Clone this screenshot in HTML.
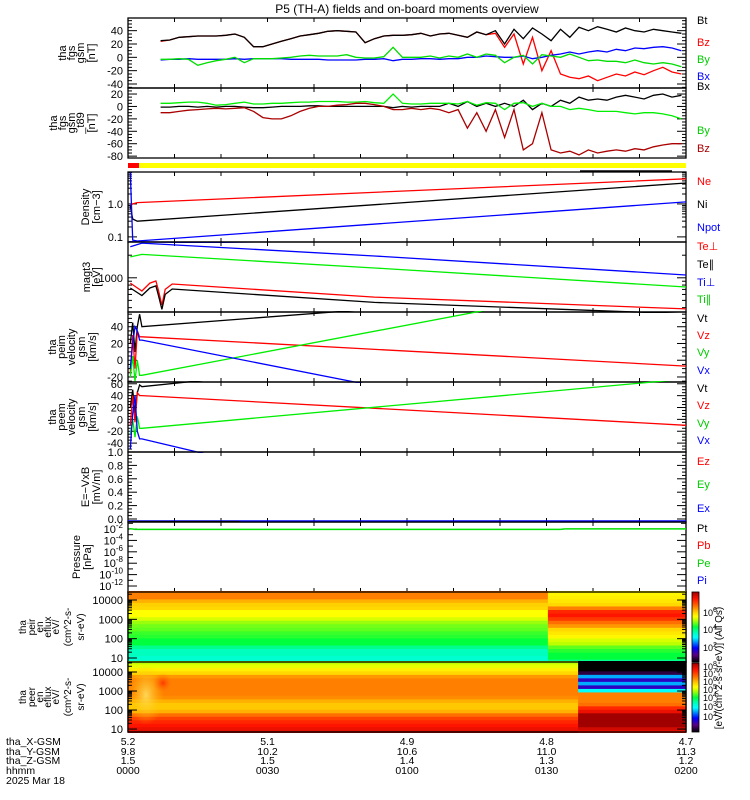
<!DOCTYPE html>
<html><head><meta charset="utf-8"><style>
html,body{margin:0;padding:0;background:#fff;width:750px;height:800px;overflow:hidden}
svg{display:block;font-family:"Liberation Sans",sans-serif}
</style></head><body>
<svg id="chart" width="750" height="800" viewBox="0 0 750 800" xmlns="http://www.w3.org/2000/svg">
<text x="407" y="13" font-size="12" text-anchor="middle">P5 (TH-A) fields and on-board moments overview</text>
</svg>
<script>
// ---------- data ----------
const tFgs=[7,9,11,13,15,17,19,21,23,25,27,29,31,33,35,37,39,41,43,45,47,49,51,53,55,57,59,61,63,65,67,69,71,73,75,77,79,81,83,85,87,89,91,93,95,97,99,101,103,105,107,109,111,113,115,117,119];
const btVals=[25,26,30,31,32,32,32,33,35,30,16,16,20,24,28,32,34,36,39,40,39,38,22,28,32,33,33,34,36,32,35,36,33,30,38,34,40,20,42,28,44,35,25,42,30,45,40,46,42,38,44,40,38,42,40,38,36];
const bzVals=[24,26,30,31,32,32,32,33,35,30,16,16,20,24,28,32,34,36,39,40,39,38,22,28,32,33,33,34,36,32,35,36,33,30,38,34,36,15,35,-10,30,-20,10,-25,-30,-32,-28,-35,-30,-25,-28,-22,-26,-20,-15,-22,-25];
const byVals=[-3,-3,-2,-3,-12,-8,-5,-3,0,-8,-2,-2,-2,-1,0,2,3,2,2,2,4,0,-1,-1,1,15,0,0,0,2,-1,2,0,5,0,5,3,-8,0,3,-10,4,2,0,5,0,-5,-4,-6,-6,-8,-4,-8,-10,-8,-10,-14];
const bxVals=[-4,-3,-3,-2,-3,-3,-3,-3,-2,-3,-2,-2,-2,-2,-3,-3,-3,-3,-4,-4,-4,-4,-3,-3,-2,-5,-3,-3,-2,-2,-3,-2,-2,0,0,2,1,0,0,2,-2,0,3,5,8,5,8,10,8,12,10,14,13,15,16,14,10];
const bx89Vals=[-1,-1,0,0,-1,0,-1,0,0,-1,-2,-2,-1,0,0,0,1,1,0,0,0,0,0,0,0,-2,0,-1,0,0,0,5,0,8,0,5,0,5,0,10,-5,5,0,10,5,15,10,12,10,15,18,15,12,18,20,15,18];
const by89Vals=[5,5,6,7,7,5,2,3,5,7,4,4,5,5,6,7,7,8,8,8,7,7,8,6,5,20,5,4,4,5,5,5,4,8,2,6,5,-5,5,6,0,5,0,0,-5,-3,-5,-8,-8,-8,-10,-12,-10,-10,-12,-15,-20];
const bz89Vals=[-10,-10,-8,-6,-5,-4,-3,-4,-3,-2,-8,-18,-20,-20,-15,-8,-3,0,0,2,3,5,5,3,0,-5,-5,-3,-5,-3,-5,-10,-5,-35,-10,-40,-5,-50,-5,-70,-60,-10,-70,-75,-72,-78,-70,-75,-72,-70,-72,-68,-70,-65,-62,-60,-60];
const tDen=[0.5,1,2,120];
const neVals=[0.9,1.0,1.1,5.8];
const niVals=[0.9,0.35,0.3,4.3];
const npotVals=[9,0.08,0.075,1.15];
const tTemp=[0.5,3,4.7,6,6.5,7.3,8,9.5,53,120];
const teperpVals=[849,667,849,905,700,434,700,827,553,385];
const teparVals=[730,580,730,780,600,380,600,710,470,330];
const tTi=[0.5,3,53,120];
const tiperpVals=[2600,2900,1950,1090];
const tiparVals=[1900,2050,1350,753];
const tVel=[0.5,1,1.5,2,2.5,3,120];
const peimVt=[20,45,10,40,55,40,90];
const peimVz=[-15,30,-10,35,28,28,-7];
const peimVy=[-20,5,-25,0,-18,-18,105];
const peimVx=[-10,20,40,35,24,24,-104];
const peemVt=[20,50,10,45,58,55,150];
const peemVz=[-10,40,-5,45,40,40,-10];
const peemVy=[-25,0,-30,5,-15,-15,68];
const peemVx=[-50,10,40,-20,-33,-33,-250];
const tE=[0,120];
const exVals=[-0.03,-0.03];
const tEblack=[0.3,24];
const etVals=[-0.04,-0.04];
const tPres=[0.3,1.5,93,94,120];
const peVals=[0.012,0.0085,0.0085,0.0105,0.0105];
const energies=[7,11,16,25,38,58,88,135,205,310,480,730,1100,1700,2600,4000,6100,9300,14200,21700,33100];
const peirSegTimes=[0,90.3,120];
const peirFluxA=[0.4,0.4,0.42,0.42,0.45,0.5,0.5,0.52,0.53,0.55,0.56,0.58,0.62,0.65,0.65,0.7,0.71,0.74,0.78,0.78,0.8];
const peirFluxB=[0.45,0.5,0.5,0.52,0.55,0.6,0.62,0.66,0.68,0.7,0.76,0.8,0.86,0.9,0.88,0.78,0.7,0.68,0.67,0.66,0.66];
const peerSegTimes=[0,96.8,120];
const peerFluxA=[0.95,0.92,0.9,0.88,0.85,0.8,0.74,0.72,0.72,0.74,0.77,0.78,0.78,0.78,0.78,0.78,0.76,0.7,0.67,0.63,0.6];
const peerFluxB=[0.9,0.95,1,1,1,1,0.92,0.88,0.8,0.78,0.78,0.78,0.35,0.15,0.3,0.15,0.3,0.05,0,0,0];
const xTickLabelsX=["5.2","5.1","4.9","4.8","4.7"];
const xTickLabelsY=["9.8","10.2","10.6","11.0","11.3"];
const xTickLabelsZ=["1.5","1.5","1.4","1.3","1.2"];
const xTickLabelsT=["0000","0030","0100","0130","0200"];

// ---------- helpers ----------
const svg=document.getElementById('chart');
const NS='http://www.w3.org/2000/svg';
const X0=128,X1=686,TMAX=120;
const xs=t=>X0+t*(X1-X0)/TMAX;
function mk(tag,attrs,parent){const e=document.createElementNS(NS,tag);for(const k in attrs)e.setAttribute(k,attrs[k]);(parent||svg).appendChild(e);return e;}
function lin(vmin,vmax,y0,y1){return v=>y1-(v-vmin)/(vmax-vmin)*(y1-y0);}
function lg(vmin,vmax,y0,y1){const a=Math.log10(vmin),b=Math.log10(vmax);return v=>y1-(Math.log10(v)-a)/(b-a)*(y1-y0);}
function series(ts,vs,ys,color,name,y0,y1,w){
  const n=Math.min(ts.length,vs.length);let d='';
  for(let i=0;i<n;i++){d+=(i?'L':'M')+xs(ts[i]).toFixed(1)+','+ys(vs[i]).toFixed(1);}
  const p=mk('path',{d:d,fill:'none',stroke:color,'stroke-width':w||1.3,'clip-path':'url(#clip'+y0+')'});
  
  
}
function segs(ts,vs,ys,color,name,w){
  const g=mk('g',{});
  
  
  const n=Math.min(ts.length,vs.length);
  for(let i=1;i<n;i++){mk('line',{x1:xs(ts[i-1]),y1:ys(vs[i-1]),x2:xs(ts[i]),y2:ys(vs[i]),stroke:color,'stroke-width':w||1.5},g);}
}
const defs=mk('defs',{});
function panel(y0,y1,name){
  const cp=mk('clipPath',{id:'clip'+y0},defs);mk('rect',{x:X0,y:y0-1,width:X1-X0,height:y1-y0+2},cp);
  const r=mk('rect',{x:X0,y:y0,width:X1-X0,height:y1-y0,fill:'none',stroke:'#000','stroke-width':1.3});
  
  
  for(let t=10;t<TMAX;t+=10){
    mk('line',{x1:xs(t),x2:xs(t),y1:y0,y2:y0+4,stroke:'#000'});
    mk('line',{x1:xs(t),x2:xs(t),y1:y1,y2:y1-4,stroke:'#000'});
  }
}
function ytick(y,len){mk('line',{x1:X0,x2:X0+len,y1:y,y2:y,stroke:'#000'});mk('line',{x1:X1,x2:X1-len,y1:y,y2:y,stroke:'#000'});}
function ylab(y,txt,sup){
  const t=mk('text',{x:123,y:y+4,'font-size':11,'text-anchor':'end'});
  
  
  t.textContent=txt;
  if(sup){const s=mk('tspan',{dy:-5,'font-size':8},t);s.textContent=sup;}
}
function linAxis(ys,vmin,vmax,major,minor,fmt,y0,y1){
  for(let v=Math.ceil(vmin/minor)*minor;v<=vmax+1e-9;v+=minor){const y=ys(v);if(y<y0-0.5||y>y1+0.5)continue;
    const isM=Math.abs(Math.round(v/major)*major-v)<1e-6;ytick(y,isM?9:4);if(isM)ylab(y,fmt(v));}
}
function leftLabel(lines,xsArr,yc,fs){
  lines.forEach((l,i)=>{const t=mk('text',{transform:`translate(${xsArr[i]},${yc}) rotate(-90)`,'font-size':fs||11,'text-anchor':'middle'});
    
    
    t.textContent=l;});
}
function legend(txt,y,color){const t=mk('text',{x:697,y:y+4,'font-size':11,fill:color});
  
  
  t.textContent=txt;}
function cmap(v){
  const st=[[0,0,0,0],[0.1,90,0,130],[0.2,0,0,255],[0.35,0,255,255],[0.42,0,255,190],[0.5,0,255,60],[0.6,190,255,0],[0.65,255,255,0],[0.72,255,200,0],[0.78,255,128,0],[0.9,255,20,0],[1,160,0,0]];
  v=Math.max(0,Math.min(1,v));for(let i=1;i<st.length;i++){if(v<=st[i][0]){const a=st[i-1],b=st[i],f=(v-a[0])/(b[0]-a[0]);
    return `rgb(${Math.round(a[1]+f*(b[1]-a[1]))},${Math.round(a[2]+f*(b[2]-a[2]))},${Math.round(a[3]+f*(b[3]-a[3]))})`;}}return 'rgb(160,0,0)';
}
function spectro(segT,fluxes,ys,y0,y1,name){
  const g=mk('g',{'clip-path':'url(#clip'+y0+')'});
  
  
  for(let s=0;s<fluxes.length;s++){const f=fluxes[s];
    for(let i=0;i<energies.length;i++){
      const lo=i?Math.sqrt(energies[i]*energies[i-1]):energies[0]/1.5;
      const hi=i<energies.length-1?Math.sqrt(energies[i]*energies[i+1]):energies[i]*1.5;
      const ya=ys(hi),yb=ys(lo);
      const c=mk('rect',{x:xs(segT[s]),y:ya,width:xs(segT[s+1])-xs(segT[s])+0.5,height:yb-ya+0.5,fill:cmap(f[i])},g);
      
      
    }}
  return g;
}
function logAxisE(ys,y0,y1){
  [10,100,1000,10000].forEach(v=>{for(let k=1;k<10;k++){const y=ys(v*k);if(y<y0||y>y1)continue;ytick(y,k==1?9:4);}ylab(ys(v),String(v));});
}

// ---------- panel 1: fgs gsm ----------
let y1s=lin(-46,59,18,88);panel(18,88,'fgs-gsm-panel');
linAxis(y1s,-46,59,20,5,v=>v,18,88);
series(tFgs,bzVals,y1s,'#f00','bz-line',18);series(tFgs,btVals,y1s,'#000','bt-line',18);
series(tFgs,bxVals,y1s,'#00f','bx-line',18);series(tFgs,byVals,y1s,'#0d0','by-line',18);
leftLabel(['tha','fgs','gsm','[nT]'],[66,75,84,95],53);
legend('Bt',20,'#000');legend('Bz',42,'#f00');legend('By',59,'#0c0');legend('Bx',76,'#00f');

// ---------- panel 2: fgs gsm - t89 ----------
let y2s=lin(-83,29.7,88,158);panel(88,158,'fgs-t89-panel');
linAxis(y2s,-83,29.7,20,5,v=>v,88,158);
series(tFgs,bx89Vals,y2s,'#000','bx-t89-line',88);series(tFgs,by89Vals,y2s,'#0e0','by-t89-line',88);
series(tFgs,bz89Vals,y2s,'#a00','bz-t89-line',88);
leftLabel(['tha','fgs','gsm','_t89','[nT]'],[57,66,75,84,95],123);
legend('Bx',86,'#000');legend('By',130,'#0c0');legend('Bz',148,'#a00');

// flag bar
mk('rect',{x:X0,y:163,width:X1-X0,height:5,fill:'#ff0'});
mk('rect',{x:X0,y:163,width:11,height:5,fill:'#f00'});
mk('line',{x1:580,x2:672,y1:171,y2:171,stroke:'#000','stroke-width':1.5});

// ---------- panel 3: density ----------
let y3s=lg(0.07,9.3,172,242);panel(172,242,'density-panel');
[0.1,1].forEach(v=>{for(let k=1;k<10;k++){const y=y3s(v*k);if(y<172||y>242)continue;ytick(y,k==1?9:4);}});
ylab(y3s(1),'1.0');ylab(y3s(0.1),'0.1');
series(tDen,neVals,y3s,'#f00','ne-line',172);series(tDen,niVals,y3s,'#000','ni-line',172);
series(tDen,npotVals,y3s,'#00f','npot-line',172);
series([0.3,28],[0.072,0.062],y3s,'#00f','npot-secondary-line',172);
leftLabel(['Density','[cm\u22123]'],[89,100],207);
legend('Ne',181,'#f00');legend('Ni',204,'#000');legend('Npot',227,'#00f');

// ---------- panel 4: temperature ----------
let y4s=lg(350,3000,242,312);panel(242,312,'temperature-panel');
[100,1000].forEach(v=>{for(let k=1;k<10;k++){const y=y4s(v*k);if(y<242||y>312)continue;ytick(y,k==1?9:4);}});
ylab(y4s(1000),'1000');
series(tTemp,teperpVals,y4s,'#f00','te-perp-line',242);series(tTemp,teparVals,y4s,'#000','te-par-line',242);
series(tTi,tiperpVals,y4s,'#00f','ti-perp-line',242);series(tTi,tiparVals,y4s,'#0e0','ti-par-line',242);
leftLabel(['magt3','[eV]'],[90,100],277);
legend('Te\u22a5',246,'#f00');legend('Te\u2225',264,'#000');legend('Ti\u22a5',282,'#00f');legend('Ti\u2225',299,'#0c0');

// ---------- panel 5: peim velocity ----------
let y5s=lin(-26,57.6,312,382);panel(312,382,'peim-velocity-panel');
linAxis(y5s,-26,57.6,20,5,v=>v,312,382);
series(tVel,peimVt,y5s,'#000','peim-vt-line',312);series(tVel,peimVz,y5s,'#f00','peim-vz-line',312);
series(tVel,peimVy,y5s,'#0e0','peim-vy-line',312);series(tVel,peimVx,y5s,'#00f','peim-vx-line',312);
leftLabel(['tha','peim','velocity','gsm','[km/s]'],[56,65,75,85,96],347);
legend('Vt',318,'#000');legend('Vz',335,'#f00');legend('Vy',352,'#0c0');legend('Vx',370,'#00f');

// ---------- panel 6: peem velocity ----------
let y6s=lin(-55,63,382,452);panel(382,452,'peem-velocity-panel');
linAxis(y6s,-55,63,20,5,v=>v,382,452);
series(tVel,peemVt,y6s,'#000','peem-vt-line',382);series(tVel,peemVz,y6s,'#f00','peem-vz-line',382);
series(tVel,peemVy,y6s,'#0e0','peem-vy-line',382);series(tVel,peemVx,y6s,'#00f','peem-vx-line',382);
leftLabel(['tha','peem','velocity','gsm','[km/s]'],[56,65,75,85,96],417);
legend('Vt',388,'#000');legend('Vz',405,'#f00');legend('Vy',423,'#0c0');legend('Vx',440,'#00f');

// ---------- panel 7: E field ----------
let y7s=lin(-0.045,1.0,452,522);panel(452,522,'efield-panel');
linAxis(y7s,-0.045,1.0,0.2,0.05,v=>v.toFixed(1),452,522);
segs(tE,exVals,y7s,'#00f','ex-line',1.6);segs(tEblack,etVals,y7s,'#000','et-line',1.6);
leftLabel(['E=\u2212VxB','[mV/m]'],[89,100],487);
legend('Ez',461,'#f00');legend('Ey',484,'#0c0');legend('Ex',508,'#00f');

// ---------- panel 8: pressure ----------
let y8s=lg(Math.pow(10,-13.05),Math.pow(10,-0.77),522,592);panel(522,592,'pressure-panel');
for(let e=-13;e<=-1;e++){ytick(y8s(Math.pow(10,e)),e%2==0?9:5);}
for(let e=-2;e>=-12;e-=2)ylab(y8s(Math.pow(10,e)),'10',String(e));
segs(tPres,peVals,y8s,'#00e000','pe-line',1.5);
leftLabel(['Pressure','[nPa]'],[80,91],557);
legend('Pt',528,'#000');legend('Pb',545,'#f00');legend('Pe',563,'#0c0');legend('Pi',580,'#00f');

// ---------- panel 9: peir spectrogram ----------
let y9s=lg(6.2,26000,592,662);panel(592,662,'peir-spectrogram-panel');
spectro(peirSegTimes,[peirFluxA,peirFluxB],y9s,592,662,'peir-spectrogram');
mk('rect',{x:X0,y:592,width:X1-X0,height:70,fill:'none',stroke:'#000','stroke-width':1.3});
logAxisE(y9s,592,662);
leftLabel(['tha','peir','en','eflux','eV/','(cm^2-s-','sr-eV)'],[26,35,43,51,59,71,84],627,10);

// ---------- panel 10: peer spectrogram ----------
let y10s=lg(7,33600,662,732);panel(662,732,'peer-spectrogram-panel');
const g10=spectro(peerSegTimes,[peerFluxA,peerFluxB],y10s,662,732,'peer-spectrogram');
const gr=mk('radialGradient',{id:'blob'},defs);mk('stop',{offset:'0','stop-color':'#ff3000','stop-opacity':0.9},gr);mk('stop',{offset:'1','stop-color':'#ff8000','stop-opacity':0},gr);
const gr2=mk('radialGradient',{id:'blob2'},defs);mk('stop',{offset:'0','stop-color':'#ffe060','stop-opacity':0.9},gr2);mk('stop',{offset:'1','stop-color':'#ffc000','stop-opacity':0},gr2);
mk('ellipse',{cx:146,cy:695,rx:18,ry:30,fill:'url(#blob2)'},g10);
mk('ellipse',{cx:163,cy:683,rx:10,ry:10,fill:'url(#blob)'},g10);
mk('rect',{x:X0,y:662,width:X1-X0,height:70,fill:'none',stroke:'#000','stroke-width':1.3});
logAxisE(y10s,662,732);
leftLabel(['tha','peer','en','eflux','eV/','(cm^2-s-','sr-eV)'],[26,35,43,51,59,71,84],697,10);

// colorbars
function colorbar(y0,y1,labels,name){
  const gid='cb'+y0;const lgd=mk('linearGradient',{id:gid,x1:0,y1:1,x2:0,y2:0},defs);
  for(let i=0;i<=20;i++)mk('stop',{offset:i/20,'stop-color':cmap(i/20)},lgd);
  const r=mk('rect',{x:692,y:y0,width:7,height:y1-y0,fill:'url(#'+gid+')',stroke:'#000','stroke-width':0.8});
  
  
  labels.forEach(l=>{const t=mk('text',{x:703,y:l[1]+4,'font-size':9});t.textContent='10';
    
    
    const s=mk('tspan',{dy:-4,'font-size':7},t);s.textContent=l[0];});
}
colorbar(592,662,[['6',612],['4',629],['2',647]],'peir-colorbar');
colorbar(663,732,[['8',666],['7',673],['6',681],['5',689],['4',697],['3',706],['2',716]],'peer-colorbar');
const ct=mk('text',{transform:'translate(722,668) rotate(-90)','font-size':10,'text-anchor':'middle'});


ct.textContent='[eV/(cm^2-s-sr-eV)] (All Qs)';

// ---------- bottom x labels ----------
[['tha_X-GSM',745],['tha_Y-GSM',755],['tha_Z-GSM',764],['hhmm',774],['2025 Mar 18',784]].forEach(a=>{
  const t=mk('text',{x:6,y:a[1],'font-size':10.5});t.textContent=a[0];
  
  });
const rows=[[xTickLabelsX,745],[xTickLabelsY,755],[xTickLabelsZ,764],[xTickLabelsT,774]];
rows.forEach(r=>r[0].forEach((lab,i)=>{const t=mk('text',{x:xs(i*30),y:r[1],'font-size':10.5,'text-anchor':'middle'});
  
  
  t.textContent=lab;}));
</script>
</body></html>
